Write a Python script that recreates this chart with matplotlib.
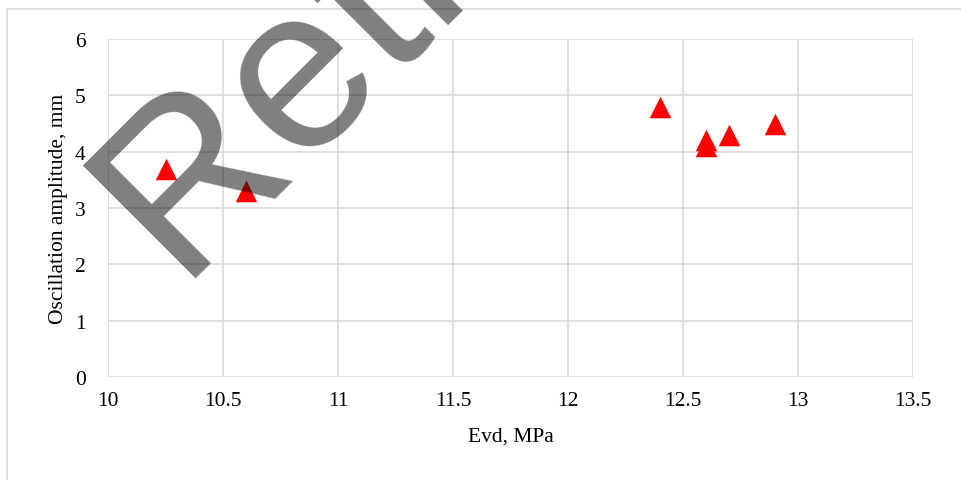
import matplotlib
matplotlib.use("Agg")
import matplotlib.pyplot as plt
from matplotlib.patches import Rectangle

evd = [10.25, 10.6, 12.4, 12.6, 12.6, 12.7, 12.9]
amplitude = [3.7, 3.3, 4.8, 4.2, 4.1, 4.3, 4.5]
x_ticks = [10, 10.5, 11, 11.5, 12, 12.5, 13, 13.5]
x_tick_labels = ["10", "10.5", "11", "11.5", "12", "12.5", "13", "13.5"]
y_ticks = [0, 1, 2, 3, 4, 5, 6]
x_label = "Evd, MPa"
y_label = "Oscillation amplitude, mm"
watermark = "Retracted"

plt.rcParams['font.family'] = ['Liberation Serif', 'DejaVu Serif']

W, H = 961, 481
fig = plt.figure(figsize=(W / 100, H / 100), dpi=100)
fig.patch.set_facecolor("white")

# outer chart border
fig.patches.append(Rectangle((7 / W, -0.1), 2, 1 - 10 / H + 0.1, transform=fig.transFigure,
                             fill=False, edgecolor="#d9d9d9", linewidth=1.2, zorder=0))

ax = fig.add_axes([108 / W, 1 - 378 / H, (913 - 108) / W, (378 - 40) / H])
ax.set_xlim(10, 13.5)
ax.set_ylim(0, 6)
ax.set_xticks(x_ticks)
ax.set_xticklabels(x_tick_labels)
ax.set_yticks(y_ticks)
ax.grid(True, color="#d9d9d9", linewidth=1.2)
ax.set_axisbelow(True)
for s in ax.spines.values():
    s.set_visible(False)
ax.tick_params(length=0, labelsize=15.5, colors="black")
ax.tick_params(axis="y", pad=16)
ax.tick_params(axis="x", pad=10)

ax.scatter(evd, amplitude, marker="^", s=15.5 ** 2, color="#ff0000", linewidths=0, zorder=3)

ax.set_xlabel(x_label, fontsize=15.5, labelpad=12)
ax.set_ylabel(y_label, fontsize=15.5, labelpad=5)

wm = fig.text(177 / W, 1 - 278 / H, watermark, rotation=45, rotation_mode="anchor",
              ha="left", va="baseline", fontsize=167, family="Liberation Sans",
              color="black", alpha=0.5, zorder=10)
wm.set_clip_on(True)

fig.savefig("out.png", dpi=100)
